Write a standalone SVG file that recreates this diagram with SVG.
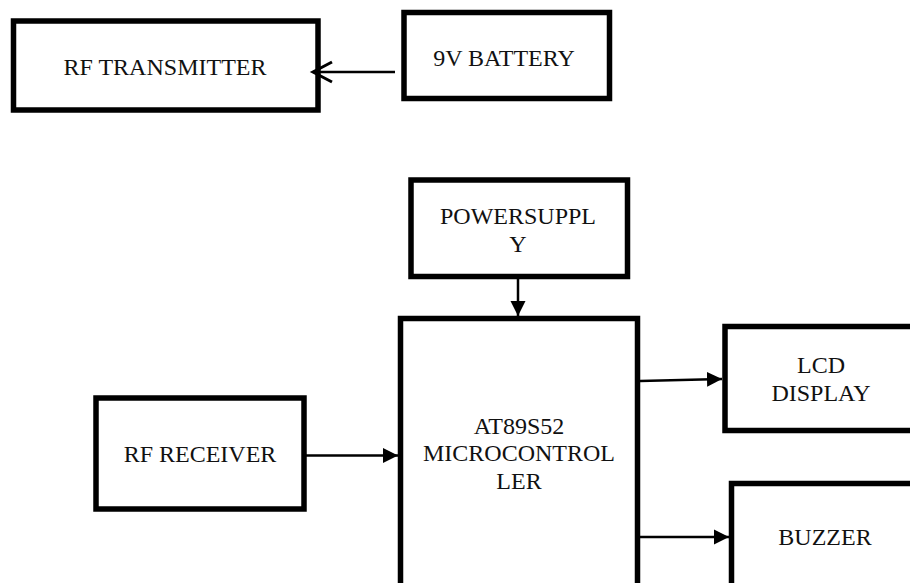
<svg xmlns="http://www.w3.org/2000/svg" width="910" height="583" viewBox="0 0 910 583">
<style>
.box{fill:#fff;stroke:#000;stroke-width:5.5}
.lbl{font-family:"Liberation Serif","Times New Roman",serif;font-size:24px;fill:#111;text-anchor:middle}
.wire{stroke:#000;stroke-width:2.5;fill:none}
</style>
<defs>
<marker id="tri" markerUnits="userSpaceOnUse" markerWidth="16" markerHeight="16" viewBox="0 0 16 16" refX="15" refY="8" orient="auto">
<path d="M0,0.5 L15,8 L0,15.5 Z" fill="#000"/>
</marker>
<marker id="open" markerUnits="userSpaceOnUse" markerWidth="26" markerHeight="26" viewBox="0 0 26 26" refX="22" refY="13" orient="auto" overflow="visible">
<path d="M3,3 L22,13 L3,23" fill="none" stroke="#000" stroke-width="3"/>
</marker>
</defs>
<rect width="910" height="583" fill="#fff"/>
<g id="rf-transmitter">
<rect class="box" x="13.5" y="21" width="304.5" height="89"/>
<text class="lbl" x="165" y="75">RF TRANSMITTER</text>
</g>
<g id="battery">
<rect class="box" x="404" y="12.5" width="205.5" height="86"/>
<text class="lbl" x="504" y="66">9V BATTERY</text>
</g>
<g id="power-supply">
<rect class="box" x="411" y="180" width="216.5" height="96.5"/>
<text class="lbl" x="518" y="224">POWERSUPPL</text>
<text class="lbl" x="518" y="252">Y</text>
</g>
<g id="microcontroller">
<rect class="box" x="400.5" y="318.5" width="237" height="300"/>
<text class="lbl" x="519" y="434">AT89S52</text>
<text class="lbl" x="519" y="461">MICROCONTROL</text>
<text class="lbl" x="519" y="489">LER</text>
</g>
<g id="rf-receiver">
<rect class="box" x="96" y="398" width="208" height="111"/>
<text class="lbl" x="200" y="462">RF RECEIVER</text>
</g>
<g id="lcd-display">
<rect class="box" x="725" y="326.5" width="300" height="104"/>
<text class="lbl" x="821" y="373">LCD</text>
<text class="lbl" x="821" y="401">DISPLAY</text>
</g>
<g id="buzzer">
<rect class="box" x="731.5" y="483.5" width="300" height="200"/>
<text class="lbl" x="825" y="545">BUZZER</text>
</g>
<g id="connectors">
<line class="wire" x1="395" y1="72" x2="313" y2="72" marker-end="url(#open)"/>
<line class="wire" x1="518" y1="279" x2="518" y2="316" marker-end="url(#tri)"/>
<line class="wire" x1="306" y1="455.5" x2="398" y2="455.5" marker-end="url(#tri)"/>
<line class="wire" x1="640" y1="381" x2="722" y2="379" marker-end="url(#tri)"/>
<line class="wire" x1="640" y1="537" x2="729" y2="537" marker-end="url(#tri)"/>
</g>
</svg>
